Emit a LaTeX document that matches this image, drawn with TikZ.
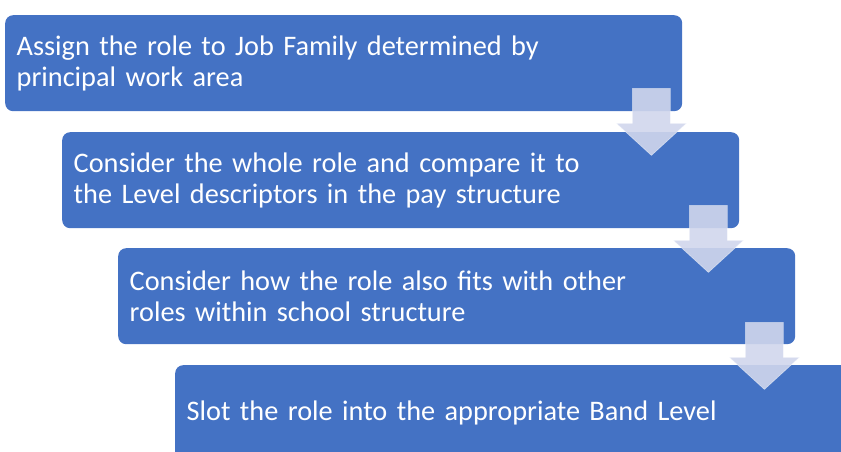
\documentclass[tikz,border=0pt]{standalone}
\usepackage{fontspec}
\setmainfont{Carlito}
\usetikzlibrary{calc}
\definecolor{stepblue}{HTML}{4472C4}
\definecolor{arrowtint}{RGB}{208,214,236}
\begin{document}
\begin{tikzpicture}[x=1pt,y=1pt,line join=round,
  stage/.style={fill=stepblue,rounded corners=8pt,text=white,anchor=north west,align=left,
    text width=654pt,inner xsep=11.5pt,inner ysep=0pt,minimum height=96pt,
    font=\fontsize{28.3}{31}\selectfont},
  pics/downarrow/.style={code={
    \fill[arrowtint,fill opacity=.9,draw=white,draw opacity=.5,line width=.6pt]
      (-19,0)--(19,0)--(19,-35)--(35,-35)--(0,-67)--(-35,-35)--(-19,-35)--cycle;}}]
\useasboundingbox (0,0) rectangle (841,-452);
\clip (0,0) rectangle (841,-452);
\node[stage] (s1) at (5,-15) {Assign the role to Job Family determined by\\principal work area};
\node[stage] (s2) at (62,-132) {Consider the whole role and compare it to\\the Level descriptors in the pay structure};
\node[stage] (s3) at (118,-248) {Consider how the role also fits with other\\roles within school structure};
\node[stage] (s4) at (175,-365) {Slot the role into the appropriate Band Level};
\pic at ($(s1.south east)+(-31,23)$) {downarrow};
\pic at ($(s2.south east)+(-31,23)$) {downarrow};
\pic at ($(s3.south east)+(-31,22)$) {downarrow};
\end{tikzpicture}
\end{document}
